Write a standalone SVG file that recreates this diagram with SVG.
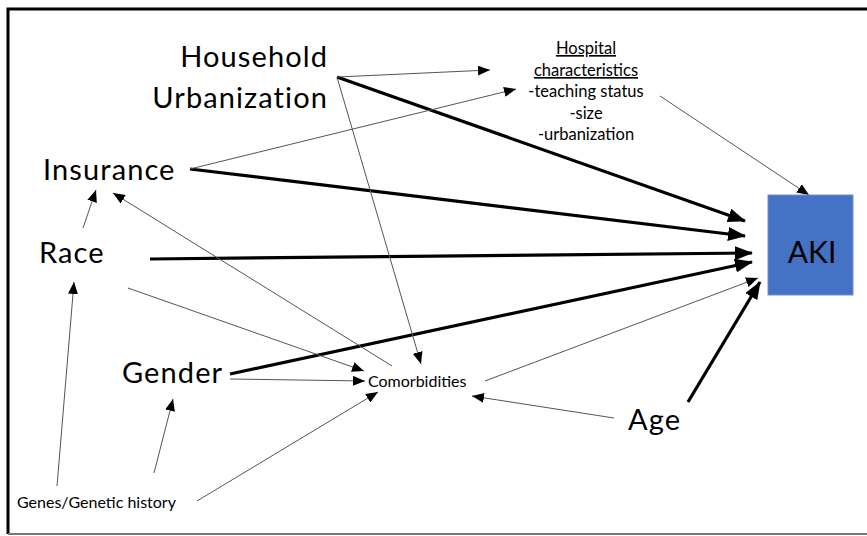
<svg xmlns="http://www.w3.org/2000/svg" width="867" height="536" viewBox="0 0 867 536">
<defs>
<style>
text{font-family:Lato,"Open Sans","Liberation Sans",sans-serif;fill:#000}
.big{font-size:29px;letter-spacing:1.1px}
.sm{font-size:16px}
.hc{font-size:16.5px;text-anchor:middle}
.thick{stroke:#000;stroke-width:3.2;fill:none;marker-end:url(#ah)}
.thin{stroke:#555;stroke-width:1;fill:none;marker-end:url(#as)}
</style>
<marker id="ah" markerUnits="userSpaceOnUse" viewBox="0 0 18 14" refX="17" refY="7" markerWidth="18" markerHeight="14" orient="auto"><path d="M0,0 L18,7 L0,14 Z" fill="#000"/></marker>
<marker id="as" markerUnits="userSpaceOnUse" viewBox="0 0 12 10" refX="12" refY="5" markerWidth="12" markerHeight="10" orient="auto"><path d="M0,0 L12,5 L0,10 Z" fill="#000"/></marker>
</defs>
<rect x="0" y="0" width="867" height="536" fill="#fff"/>
<path d="M8,534 L8,9 L867,9" stroke="#000" stroke-width="3" fill="none"/>
<line x1="8" y1="534" x2="867" y2="534" stroke="#777" stroke-width="2"/>
<g id="connectors">
<line class="thick" x1="337" y1="77" x2="745" y2="221"/>
<line class="thick" x1="190" y1="169" x2="745" y2="236"/>
<line class="thick" x1="150" y1="259" x2="752" y2="253"/>
<line class="thick" x1="230" y1="374" x2="752" y2="262"/>
<line class="thick" x1="688" y1="402" x2="760" y2="282"/>
<line class="thin" x1="337" y1="77" x2="490" y2="70"/>
<line class="thin" x1="337" y1="77" x2="421" y2="364"/>
<line class="thin" x1="190" y1="169" x2="516" y2="89"/>
<line class="thin" x1="660" y1="96" x2="809" y2="195"/>
<line class="thin" x1="392" y1="366" x2="113" y2="193"/>
<line class="thin" x1="128" y1="288" x2="364" y2="371"/>
<line class="thin" x1="230" y1="379" x2="365" y2="381"/>
<line class="thin" x1="197" y1="501" x2="378" y2="392"/>
<line class="thin" x1="57" y1="486" x2="74" y2="282"/>
<line class="thin" x1="154" y1="473" x2="173" y2="399"/>
<line class="thin" x1="83" y1="228" x2="96" y2="190"/>
<line class="thin" x1="485" y1="381" x2="758" y2="278"/>
<line class="thin" x1="614" y1="418" x2="472" y2="396"/>
</g>
<g id="household"><text class="big" x="328" y="67" text-anchor="end">Household</text><text class="big" x="328" y="108" text-anchor="end">Urbanization</text></g>
<g id="hospital">
<text class="hc" x="586" y="54" text-decoration="underline">Hospital</text>
<text class="hc" x="586" y="76" text-decoration="underline">characteristics</text>
<text class="hc" x="586" y="97">-teaching status</text>
<text class="hc" x="586" y="119">-size</text>
<text class="hc" x="586" y="140">-urbanization</text>
</g>
<g id="insurance"><text class="big" x="43" y="180">Insurance</text></g>
<g id="race"><text class="big" x="39" y="263">Race</text></g>
<g id="gender"><text class="big" x="122" y="383">Gender</text></g>
<g id="comorbidities"><text class="sm" x="368" y="387">Comorbidities</text></g>
<g id="age"><text class="big" x="628" y="430">Age</text></g>
<g id="genes"><text class="sm" x="17" y="508">Genes/Genetic history</text></g>
<g id="aki"><rect x="768" y="195" width="85" height="100" fill="#4472C4" stroke="#6f8fd0" stroke-width="1"/><text x="812" y="263" font-size="30" text-anchor="middle">AKI</text></g>
</svg>
